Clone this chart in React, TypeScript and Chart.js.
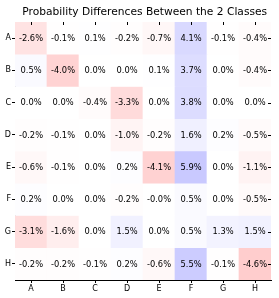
import React, { useEffect, useRef } from "react";
import { Chart, registerables } from "chart.js";

Chart.register(...registerables);

const TITLE = "Probability Differences Between the 2 Classes";
const COLS = ["A", "B", "C", "D", "E", "F", "G", "H"];
const ROWS = ["A", "B", "C", "D", "E", "F", "G", "H"];

const ROW_A = [-2.6, -0.1, 0.1, -0.2, -0.7, 4.1, -0.1, -0.4];
const ROW_B = [0.5, -4.0, 0.0, 0.0, 0.1, 3.7, 0.0, -0.4];
const ROW_C = [0.0, 0.0, -0.4, -3.3, 0.0, 3.8, 0.0, 0.0];
const ROW_D = [-0.2, -0.1, 0.0, -1.0, -0.2, 1.6, 0.2, -0.5];
const ROW_E = [-0.6, -0.1, 0.0, 0.2, -4.1, 5.9, 0.0, -1.1];
const ROW_F = [0.2, 0.0, 0.0, -0.2, -0.01, 0.5, 0.0, -0.5];
const ROW_G = [-3.1, -1.6, 0.0, 1.5, 0.0, 0.5, 1.3, 1.5];
const ROW_H = [-0.2, -0.2, -0.1, 0.2, -0.6, 5.5, -0.1, -4.6];

const MATRIX = [ROW_A, ROW_B, ROW_C, ROW_D, ROW_E, ROW_F, ROW_G, ROW_H];

const FONT = "'DejaVu Sans', sans-serif";

function cellColor(v: number): string {
  if (v >= 0) {
    const c = Math.round(255 - 9.2 * v);
    return `rgb(${c},${c},255)`;
  }
  const c = Math.round(255 - 10.9 * -v);
  return `rgb(255,${c},${c})`;
}

const labelPlugin = {
  id: "cellLabels",
  afterDatasetsDraw(chart: any) {
    const ctx = chart.ctx;
    const area = chart.chartArea;
    ctx.save();
    // title, centered over the plot area
    ctx.font = `10.67px ${FONT}`;
    ctx.fillStyle = "#000";
    ctx.textAlign = "center";
    ctx.textBaseline = "alphabetic";
    ctx.fillText(TITLE, (area.left + area.right) / 2 + 1.7, 15);

    ctx.textBaseline = "middle";
    ctx.font = `8.3px ${FONT}`;
    chart.data.datasets.forEach((ds: any, di: number) => {
      const meta = chart.getDatasetMeta(di);
      meta.data.forEach((el: any, ci: number) => {
        const p = el.getProps(["x", "y", "base"], true);
        const cy = (p.y + p.base) / 2;
        ctx.fillText(`${MATRIX[di][ci].toFixed(1)}%`, p.x, cy + 0.5);
      });
    });
    // inward tick marks on top and right edges
    const xs = chart.scales.x;
    const ys = chart.scales.y;
    ctx.strokeStyle = "#000";
    ctx.lineWidth = 1;
    ctx.beginPath();
    COLS.forEach((_, i) => {
      const x = Math.round(xs.getPixelForValue(i)) + 0.5;
      ctx.moveTo(x, area.top);
      ctx.lineTo(x, area.top + 3);
    });
    ROWS.forEach((_, i) => {
      const y = Math.round(ys.getPixelForValue(i + 0.5)) + 0.5;
      ctx.moveTo(area.right, y);
      ctx.lineTo(area.right - 3, y);
    });
    ctx.stroke();
    ctx.restore();
  },
};

export default function App() {
  const ref = useRef<HTMLCanvasElement>(null);
  useEffect(() => {
    if (!ref.current) return;
    const datasets = MATRIX.map((row, ri) => ({
      label: ROWS[ri],
      data: row.map(() => [ri, ri + 1]),
      backgroundColor: row.map((v) => cellColor(v)),
      borderWidth: 0,
      barPercentage: 1,
      categoryPercentage: 1,
      grouped: false,
    }));
    const chart = new Chart(ref.current, {
      type: "bar",
      data: { labels: COLS, datasets: datasets as any },
      plugins: [labelPlugin],
      options: {
        animation: false,
        responsive: false,
        devicePixelRatio: 1,
        layout: { padding: { left: 0, right: 8, top: 22, bottom: 0 } },
        plugins: {
          legend: { display: false },
          tooltip: { enabled: false },
          title: { display: false },
        },
        scales: {
          x: {
            type: "category",
            offset: true,
            grid: {
              display: true,
              drawOnChartArea: false,
              drawTicks: true,
              tickLength: 3,
              offset: false,
              color: "#000",
            },
            border: { display: true, color: "#000", width: 1 },
            ticks: {
              color: "#000",
              font: { family: FONT, size: 8 },
              padding: 1,
              maxRotation: 0,
              autoSkip: false,
            },
            afterFit: (s: any) => {
              s.height = 18;
            },
          },
          y: {
            type: "linear",
            min: 0,
            max: 8,
            reverse: true,
            grid: {
              display: true,
              drawOnChartArea: false,
              drawTicks: true,
              tickLength: 3,
              color: "#000",
            },
            border: { display: true, color: "#000", width: 1 },
            afterBuildTicks: (s: any) => {
              s.ticks = ROWS.map((_, i) => ({ value: i + 0.5 }));
            },
            ticks: {
              color: "#000",
              font: { family: FONT, size: 8 },
              padding: 1,
              autoSkip: false,
              callback: (v: any) => ROWS[Math.floor(Number(v))],
            },
            afterFit: (s: any) => {
              s.width = 15;
            },
          },
        },
      },
    });
    return () => chart.destroy();
  }, []);
  return (
    <div style={{ position: "fixed", left: 0, top: 0, width: 279, height: 298, background: "#fff" }}>
      <canvas ref={ref} width={279} height={298} style={{ width: 279, height: 298 }} />
    </div>
  );
}
